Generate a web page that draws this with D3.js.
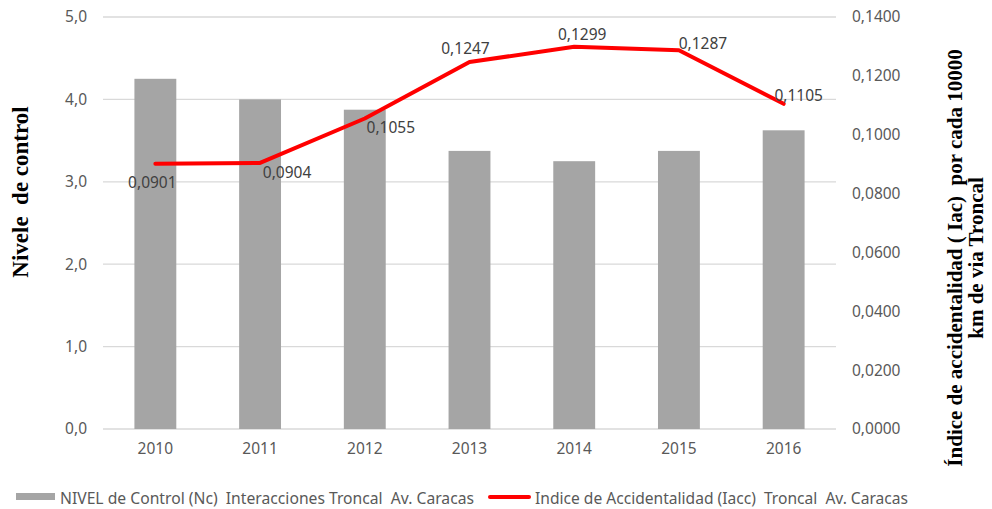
<!DOCTYPE html>
<html><head><meta charset="utf-8">
<script src="https://cdn.jsdelivr.net/npm/d3@7"></script>
<style>
html,body{margin:0;padding:0;background:#fff;}
svg{display:block;}
</style></head>
<body>
<svg id="chart" width="992" height="509"></svg>
<script>
// ---- data ----
const years = ["2010","2011","2012","2013","2014","2015","2016"];
const nivelControl = [4.25, 4.00, 3.875, 3.375, 3.25, 3.375, 3.625];
const indiceAccidentalidad = [0.0901, 0.0904, 0.1055, 0.1247, 0.1299, 0.1287, 0.1105];
const leftTicks = [0, 1, 2, 3, 4, 5];
const rightTicks = [0, 0.02, 0.04, 0.06, 0.08, 0.10, 0.12, 0.14];
const seriesNames = ["NIVEL de Control (Nc)  Interacciones Troncal  Av. Caracas",
                     "Indice de Accidentalidad (Iacc)  Troncal  Av. Caracas"];
const leftTitle = "Nivele  de control";
const rightTitle = ["Índice de accidentalidad ( Iac)  por cada 10000", "km de via Troncal"];

// ---- drawing ----
const loc = d3.formatLocale({decimal: ",", thousands: ".", grouping: [3], currency: ["", ""]});
const f1 = loc.format(".1f"), f4 = loc.format(".4f");

const svg = d3.select("#chart");
const plot = {left: 103, right: 836, top: 17, bottom: 429};
const x = d3.scaleBand().domain(years).range([plot.left, plot.right]).paddingInner(0.6).paddingOuter(0.3);
const yL = d3.scaleLinear().domain([0, 5]).range([plot.bottom, plot.top]);
const yR = d3.scaleLinear().domain([0, 0.14]).range([plot.bottom, plot.top]);
const cx = d => x(d) + x.bandwidth() / 2;
const font = "'Noto Sans', 'Open Sans', sans-serif";

// gridlines
svg.append("g").selectAll("line").data(leftTicks).join("line")
  .attr("x1", plot.left).attr("x2", plot.right)
  .attr("y1", d => yL(d)).attr("y2", d => yL(d))
  .attr("stroke", "#d9d9d9").attr("stroke-width", 1.3);

// left axis
const gL = svg.append("g").attr("transform", `translate(${plot.left - 16},0)`)
  .call(d3.axisLeft(yL).tickValues(leftTicks).tickFormat(f1).tickSize(0).tickPadding(0));
gL.select(".domain").remove();
gL.selectAll("text").attr("font-family", font).attr("font-size", 15.5).attr("fill", "#595959");

// right axis
const gR = svg.append("g").attr("transform", `translate(${plot.right + 16},0)`)
  .call(d3.axisRight(yR).tickValues(rightTicks).tickFormat(f4).tickSize(0).tickPadding(0));
gR.select(".domain").remove();
gR.selectAll("text").attr("font-family", font).attr("font-size", 15.5).attr("fill", "#595959");

// bottom axis
const gB = svg.append("g").attr("transform", `translate(0,${plot.bottom + 16})`)
  .call(d3.axisBottom(x).tickSize(0).tickPadding(0));
gB.select(".domain").remove();
gB.selectAll("text").attr("font-family", font).attr("font-size", 15.5).attr("fill", "#595959").attr("dy", "0.6em");

// bars
svg.append("g").selectAll("rect").data(years).join("rect")
  .attr("x", d => x(d)).attr("width", x.bandwidth())
  .attr("y", (d, i) => yL(nivelControl[i]))
  .attr("height", (d, i) => yL(0) - yL(nivelControl[i]))
  .attr("fill", "#a5a5a5");

// line
const line = d3.line().x((d, i) => cx(years[i])).y(d => yR(d));
svg.append("path").datum(indiceAccidentalidad).attr("d", line)
  .attr("fill", "none").attr("stroke", "#ff0000").attr("stroke-width", 4)
  .attr("stroke-linejoin", "round").attr("stroke-linecap", "round");

// data labels (offsets from point to label centre)
const labelOffsets = [[-3, 19], [27, 10], [26, 9.5], [-4, -13], [8, -12], [24, -7], [15, -8]];
svg.append("g").selectAll("text").data(indiceAccidentalidad).join("text")
  .attr("x", (d, i) => cx(years[i]) + labelOffsets[i][0])
  .attr("y", (d, i) => yR(d) + labelOffsets[i][1])
  .attr("dy", "0.35em").attr("text-anchor", "middle")
  .attr("font-family", font).attr("font-size", 15.5).attr("fill", "#404040")
  .text(d => f4(d));

// axis titles
svg.append("text")
  .attr("transform", `translate(28,192) rotate(-90)`)
  .attr("text-anchor", "middle").attr("font-family", "'Liberation Serif', 'Times New Roman', serif")
  .attr("font-weight", "bold").attr("font-size", 23).attr("fill", "#000")
  .style("white-space", "pre").text(leftTitle);

const rt = svg.append("text")
  .attr("transform", `translate(962,258) rotate(-90)`)
  .attr("text-anchor", "middle").attr("font-family", "'Liberation Serif', 'Times New Roman', serif")
  .attr("font-weight", "bold").attr("font-size", 21).attr("fill", "#000")
  .style("white-space", "pre");
rt.selectAll("tspan").data(rightTitle).join("tspan")
  .attr("x", 0).attr("dy", (d, i) => i === 0 ? 0 : 21).text(d => d);

// legend
const lg = svg.append("g").attr("font-family", "'Liberation Sans Narrow', 'Noto Sans', sans-serif")
  .attr("font-size", 17).attr("fill", "#595959");
lg.append("rect").attr("x", 16).attr("y", 493).attr("width", 39).attr("height", 7).attr("fill", "#a5a5a5");
lg.append("text").attr("x", 60).attr("y", 498).attr("dy", "0.35em")
  .attr("textLength", 414).attr("lengthAdjust", "spacingAndGlyphs")
  .style("white-space", "pre").text(seriesNames[0]);
lg.append("line").attr("x1", 490).attr("x2", 529).attr("y1", 497).attr("y2", 497)
  .attr("stroke", "#ff0000").attr("stroke-width", 4).attr("stroke-linecap", "round");
lg.append("text").attr("x", 535).attr("y", 498).attr("dy", "0.35em")
  .attr("textLength", 373).attr("lengthAdjust", "spacingAndGlyphs")
  .style("white-space", "pre").text(seriesNames[1]);
</script>
</body></html>
